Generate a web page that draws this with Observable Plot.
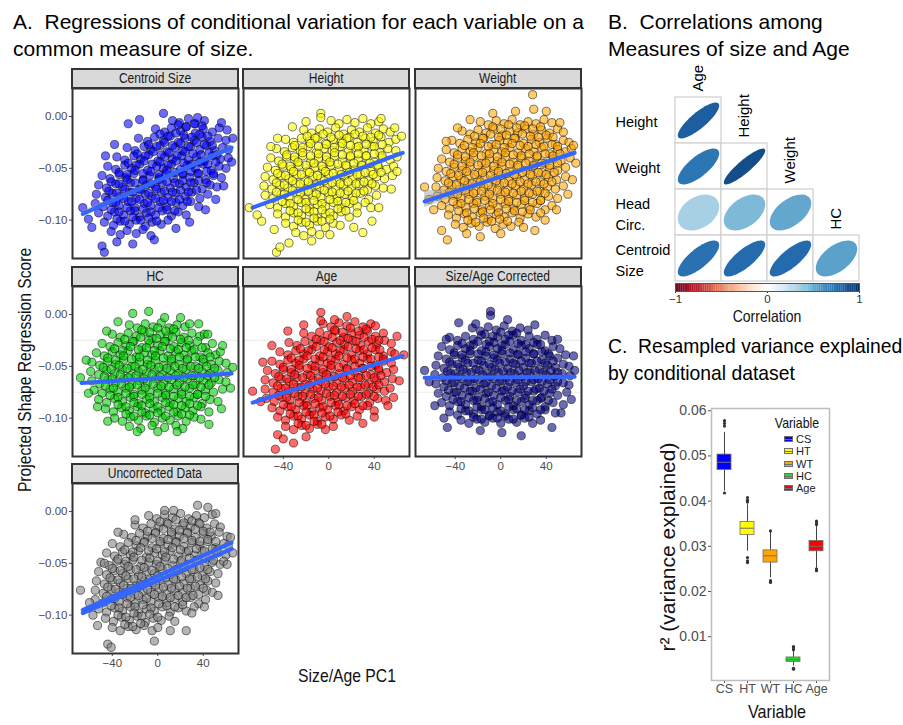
<!DOCTYPE html>
<html><head><meta charset="utf-8">
<script src="https://cdn.jsdelivr.net/npm/d3@7"></script>
<script src="https://cdn.jsdelivr.net/npm/@observablehq/plot@0.6"></script>
<style>
body{margin:0;background:#fff;}
#root{position:relative;width:903px;height:725px;overflow:hidden;background:#fff;font-family:"Liberation Sans",Arial,sans-serif;}
.title{position:absolute;font-size:21px;line-height:27px;color:#000;white-space:pre;transform-origin:0 0;}
.strip{position:absolute;background:#d9d9d9;border:2px solid #333;box-sizing:border-box;text-align:center;font-size:14px;line-height:17px;color:#1a1a1a;white-space:nowrap;}
.strip span{display:inline-block;transform:scaleX(0.86);}
.axt{position:absolute;white-space:nowrap;color:#111;transform:translate(-50%,-50%) scaleX(0.85);}
</style></head>
<body><div id="root"></div>
<script>
// ---------- Panel A data: [Size/Age PC1, projected score in thousandths] ----------
const centroidSize = [
[13,-4],[19,-6],[27,-2],[33,-7],[41,-4],
[-2,-12],[6,-15],[12,-11],[20,-14],[25,-10],[33,-16],[40,-12],[48,-15],[54,-11],
[-17,-21],[-9,-24],[-3,-20],[5,-23],[11,-19],[18,-25],[24,-21],[32,-23],[39,-20],[46,-24],[53,-21],[60,-23],
[-27,-30],[-20,-33],[-12,-29],[-6,-32],[2,-28],[8,-34],[15,-30],[22,-33],[29,-29],[37,-32],[43,-28],[50,-33],[57,-30],[62,-32],
[-36,-39],[-29,-42],[-21,-38],[-15,-41],[-8,-37],[0,-43],[6,-39],[13,-41],[21,-38],[27,-42],[34,-39],[41,-43],[48,-38],[55,-41],[62,-40],
[-44,-48],[-37,-51],[-29,-47],[-23,-50],[-16,-46],[-9,-52],[-1,-48],[5,-50],[12,-46],[20,-51],[26,-47],[33,-50],[40,-46],[47,-52],[54,-48],[60,-50],
[-49,-57],[-42,-60],[-34,-56],[-28,-59],[-21,-55],[-13,-61],[-7,-57],[1,-59],[7,-55],[14,-60],[22,-56],[28,-59],[35,-55],[42,-61],[49,-57],[56,-59],
[-52,-66],[-45,-69],[-37,-65],[-31,-68],[-24,-64],[-16,-70],[-10,-66],[-2,-68],[4,-64],[11,-69],[19,-65],[25,-68],[32,-64],[39,-70],[46,-66],[52,-68],
[-54,-75],[-46,-78],[-40,-74],[-33,-77],[-25,-73],[-19,-79],[-11,-75],[-5,-77],[3,-73],[9,-78],[16,-74],[24,-77],[30,-73],[37,-79],[44,-75],
[-55,-84],[-48,-87],[-40,-83],[-34,-86],[-26,-82],[-20,-88],[-12,-84],[-6,-86],[2,-82],[8,-87],[16,-83],[22,-86],[29,-82],[36,-87],
[-52,-93],[-44,-96],[-38,-92],[-30,-95],[-24,-91],[-16,-97],[-10,-93],[-2,-95],[4,-91],[12,-96],[18,-92],[25,-95],
[-47,-102],[-39,-105],[-33,-101],[-25,-104],[-19,-100],[-11,-106],[-5,-102],[3,-104],[9,-100],
[-41,-111],[-33,-114],[-27,-110],[-19,-113],[-13,-109],[-6,-115],
[18,-8],[25,-10],[32,-7],[39,-9],
[2,-17],[9,-19],[16,-16],[23,-18],[30,-20],[37,-17],[44,-19],
[-8,-27],[-1,-29],[6,-25],[13,-28],[20,-26],[27,-29],[34,-25],[41,-27],[48,-28],
[-18,-36],[-11,-38],[-4,-34],[3,-37],[10,-35],[17,-38],[24,-34],[31,-36],[38,-37],[45,-35],[52,-37],
[-26,-45],[-19,-47],[-12,-43],[-5,-46],[2,-44],[9,-47],[16,-43],[23,-45],[30,-46],[37,-44],[44,-46],[51,-44],
[-34,-54],[-27,-56],[-20,-52],[-13,-55],[-6,-53],[1,-56],[8,-52],[15,-54],[22,-55],[29,-53],[36,-55],[43,-53],[49,-55],
[-41,-63],[-34,-65],[-27,-61],[-20,-64],[-13,-62],[-6,-65],[1,-61],[8,-63],[15,-64],[22,-62],[29,-64],[36,-62],[43,-64],
[-43,-72],[-36,-74],[-29,-70],[-22,-73],[-15,-71],[-8,-74],[-1,-70],[6,-72],[13,-73],[20,-71],[27,-73],[34,-71],
[-44,-81],[-37,-83],[-30,-79],[-23,-82],[-16,-80],[-9,-83],[-2,-79],[5,-81],[12,-82],[19,-80],[26,-82],
[-41,-90],[-34,-92],[-27,-88],[-20,-91],[-13,-89],[-6,-92],[1,-88],[8,-90],[15,-91],
[-36,-99],[-29,-101],[-22,-97],[-15,-100],[-8,-98],[-1,-101],
[-66,-88],[-61,-99],[-58,-107],[-49,-125],[-47,-131],[-36,-121],[-22,-123],[-3,-119],[5,3],[-26,-7],[-16,-3],[-38,-27],[-46,-38],[35,-1],[56,-6],[61,-13],[66,-21],[65,-44],[58,-67],[51,-80],[42,-90],[28,-102],[16,-108]
];
const height = [
[2,-4],[9,-7],[16,-3],[23,-6],[30,-2],[37,-7],[44,-5],
[-22,-13],[-15,-16],[-8,-12],[-1,-15],[6,-11],[13,-17],[20,-13],[27,-15],[34,-11],[41,-16],[48,-12],[54,-15],
[-38,-22],[-31,-25],[-24,-21],[-17,-24],[-10,-20],[-3,-26],[4,-22],[11,-24],[18,-20],[25,-25],[32,-21],[39,-24],[46,-20],[53,-25],[59,-22],
[-46,-31],[-39,-34],[-32,-30],[-25,-33],[-18,-29],[-11,-35],[-4,-31],[3,-33],[10,-29],[17,-34],[24,-30],[31,-33],[38,-29],[45,-35],[52,-31],[59,-33],
[-51,-40],[-44,-43],[-37,-39],[-30,-42],[-23,-38],[-16,-44],[-9,-40],[-2,-42],[5,-38],[12,-43],[19,-39],[26,-42],[33,-38],[40,-44],[47,-40],[54,-42],[60,-39],
[-54,-49],[-47,-52],[-40,-48],[-33,-51],[-26,-47],[-19,-53],[-12,-49],[-5,-51],[2,-47],[9,-52],[16,-48],[23,-51],[30,-47],[37,-53],[44,-49],[51,-51],[57,-48],
[-56,-58],[-49,-61],[-42,-57],[-35,-60],[-28,-56],[-21,-62],[-14,-58],[-7,-60],[0,-56],[7,-61],[14,-57],[21,-60],[28,-56],[35,-62],[42,-58],[49,-60],[56,-57],
[-57,-67],[-50,-70],[-43,-66],[-36,-69],[-29,-65],[-22,-71],[-15,-67],[-8,-69],[-1,-65],[6,-70],[13,-66],[20,-69],[27,-65],[34,-71],[41,-67],[48,-69],
[-56,-76],[-49,-79],[-42,-75],[-35,-78],[-28,-74],[-21,-80],[-14,-76],[-7,-78],[0,-74],[7,-79],[14,-75],[21,-78],[28,-74],[35,-80],[42,-76],
[-52,-85],[-45,-88],[-38,-84],[-31,-87],[-24,-83],[-17,-89],[-10,-85],[-3,-87],[4,-83],[11,-88],[18,-84],[25,-87],[32,-83],[37,-88],
[-45,-94],[-38,-97],[-31,-93],[-24,-96],[-17,-92],[-10,-98],[-3,-94],[4,-96],[11,-92],[18,-97],[25,-93],
[-38,-103],[-31,-106],[-24,-102],[-17,-105],[-10,-101],[-3,-107],[4,-103],[10,-105],
[-29,-112],[-22,-115],[-15,-111],[-8,-114],
[-19,-19],[-12,-21],[-5,-17],[2,-20],[9,-18],[16,-21],[23,-17],[30,-19],[37,-20],[44,-18],
[-30,-28],[-23,-30],[-16,-26],[-9,-29],[-2,-27],[5,-30],[12,-26],[19,-28],[26,-29],[33,-27],[40,-29],[47,-27],
[-37,-37],[-30,-39],[-23,-35],[-16,-38],[-9,-36],[-2,-39],[5,-35],[12,-37],[19,-38],[26,-36],[33,-38],[40,-36],[47,-38],
[-41,-46],[-34,-48],[-27,-44],[-20,-47],[-13,-45],[-6,-48],[1,-44],[8,-46],[15,-47],[22,-45],[29,-47],[36,-45],[43,-47],
[-45,-55],[-38,-57],[-31,-53],[-24,-56],[-17,-54],[-10,-57],[-3,-53],[4,-55],[11,-56],[18,-54],[25,-56],[32,-54],[39,-56],[46,-54],
[-46,-64],[-39,-66],[-32,-62],[-25,-65],[-18,-63],[-11,-66],[-4,-62],[3,-64],[10,-65],[17,-63],[24,-65],[31,-63],[38,-65],
[-46,-73],[-39,-75],[-32,-71],[-25,-74],[-18,-72],[-11,-75],[-4,-71],[3,-73],[10,-74],[17,-72],[24,-74],[31,-72],
[-41,-82],[-34,-84],[-27,-80],[-20,-83],[-13,-81],[-6,-84],[1,-80],[8,-82],[15,-83],[22,-81],
[-34,-91],[-27,-93],[-20,-89],[-13,-92],[-6,-90],[1,-93],[8,-89],[15,-91],
[-27,-100],[-20,-102],[-13,-98],[-6,-101],[1,-99],
[-70,-88],[-63,-95],[-59,-101],[-48,-109],[-46,-131],[-43,-126],[-35,-122],[-7,3],[-7,-1],[-20,-5],[-32,-10],[-45,-21],[-51,-29],[46,-2],[58,-11],[64,-19],[60,-53],[55,-70],[44,-88],[38,-101],[22,-107],[-15,-120],[1,-114],[30,-112]
];
const weight = [
[-18,-5],[-11,-8],[-4,-4],[3,-7],[10,-3],[17,-8],[24,-5],[31,-7],[38,-3],[45,-6],
[-34,-14],[-27,-17],[-20,-13],[-13,-16],[-6,-12],[1,-18],[8,-14],[15,-16],[22,-12],[29,-17],[36,-13],[43,-16],[50,-12],[55,-15],
[-43,-23],[-36,-26],[-29,-22],[-22,-25],[-15,-21],[-8,-27],[-1,-23],[6,-25],[13,-21],[20,-26],[27,-22],[34,-25],[41,-21],[48,-27],[55,-23],[60,-25],
[-48,-32],[-41,-35],[-34,-31],[-27,-34],[-20,-30],[-13,-36],[-6,-32],[1,-34],[8,-30],[15,-35],[22,-31],[29,-34],[36,-30],[43,-36],[50,-32],[57,-34],[62,-31],
[-52,-41],[-45,-44],[-38,-40],[-31,-43],[-24,-39],[-17,-45],[-10,-41],[-3,-43],[4,-39],[11,-44],[18,-40],[25,-43],[32,-39],[39,-45],[46,-41],[53,-43],[61,-40],
[-55,-50],[-48,-53],[-41,-49],[-34,-52],[-27,-48],[-20,-54],[-13,-50],[-6,-52],[1,-48],[8,-53],[15,-49],[22,-52],[29,-48],[36,-54],[43,-50],[50,-52],[57,-49],
[-56,-59],[-49,-62],[-42,-58],[-35,-61],[-28,-57],[-21,-63],[-14,-59],[-7,-61],[0,-57],[7,-62],[14,-58],[21,-61],[28,-57],[35,-63],[42,-59],[49,-61],[57,-58],
[-57,-68],[-50,-71],[-43,-67],[-36,-70],[-29,-66],[-22,-72],[-15,-68],[-8,-70],[-1,-66],[6,-71],[13,-67],[20,-70],[27,-66],[34,-72],[41,-68],[48,-70],[55,-67],
[-56,-77],[-49,-80],[-42,-76],[-35,-79],[-28,-75],[-21,-81],[-14,-77],[-7,-79],[0,-75],[7,-80],[14,-76],[21,-79],[28,-75],[35,-81],[42,-77],[50,-79],
[-52,-86],[-45,-89],[-38,-85],[-31,-88],[-24,-84],[-17,-90],[-10,-86],[-3,-88],[4,-84],[11,-89],[18,-85],[25,-88],[32,-84],[39,-90],[45,-86],
[-46,-95],[-39,-98],[-32,-94],[-25,-97],[-18,-93],[-11,-99],[-4,-95],[3,-97],[10,-93],[17,-98],[24,-94],[31,-97],[35,-93],
[-40,-104],[-33,-107],[-26,-103],[-19,-106],[-12,-102],[-5,-108],[2,-104],[9,-106],[16,-102],[20,-107],
[-7,-10],[0,-12],[7,-8],[14,-11],[21,-9],[28,-12],[35,-10],
[-23,-19],[-16,-21],[-9,-17],[-2,-20],[5,-18],[12,-21],[19,-17],[26,-19],[33,-20],[40,-18],[46,-20],
[-32,-28],[-25,-30],[-18,-26],[-11,-29],[-4,-27],[3,-30],[10,-26],[17,-28],[24,-29],[31,-27],[38,-29],[45,-27],[50,-29],
[-38,-37],[-31,-39],[-24,-35],[-17,-38],[-10,-36],[-3,-39],[4,-35],[11,-37],[18,-38],[25,-36],[32,-38],[39,-36],[46,-38],[52,-36],
[-41,-46],[-34,-48],[-27,-44],[-20,-47],[-13,-45],[-6,-48],[1,-44],[8,-46],[15,-47],[22,-45],[29,-47],[36,-45],[43,-47],[50,-45],
[-44,-55],[-37,-57],[-30,-53],[-23,-56],[-16,-54],[-9,-57],[-2,-53],[5,-55],[12,-56],[19,-54],[26,-56],[33,-54],[40,-56],[47,-54],
[-46,-64],[-39,-66],[-32,-62],[-25,-65],[-18,-63],[-11,-66],[-4,-62],[3,-64],[10,-65],[17,-63],[24,-65],[31,-63],[38,-65],[45,-63],
[-45,-73],[-38,-75],[-31,-71],[-24,-74],[-17,-72],[-10,-75],[-3,-71],[4,-73],[11,-74],[18,-72],[25,-74],[32,-72],[39,-74],
[-42,-82],[-35,-84],[-28,-80],[-21,-83],[-14,-81],[-7,-84],[0,-80],[7,-82],[14,-83],[21,-81],[28,-83],[35,-81],
[-37,-91],[-30,-93],[-23,-89],[-16,-92],[-9,-90],[-2,-93],[5,-89],[12,-91],[19,-92],[26,-90],
[-29,-100],[-22,-102],[-15,-98],[-8,-101],[-1,-99],[6,-101],
[28,21],[29,7],[40,5],[-7,3],[13,5],[-27,-3],[-38,-11],[-48,-24],[-67,-68],[-63,-80],[-59,-90],[-47,-119],[-18,-116],[0,-113],[-30,-113],[-52,-110],[64,-28],[66,-45],[63,-61],[59,-75],[49,-90],[39,-100],[52,-6],[30,-110]
];
const headCirc = [
[-25,-10],[-18,-13],[-11,-9],[-4,-12],[3,-8],[10,-13],[17,-10],[24,-12],[28,-9],
[-40,-19],[-33,-22],[-26,-18],[-19,-21],[-12,-17],[-5,-23],[2,-19],[9,-21],[16,-17],[23,-22],[30,-18],[37,-21],[41,-19],
[-49,-28],[-42,-31],[-35,-27],[-28,-30],[-21,-26],[-14,-32],[-7,-28],[0,-30],[7,-26],[14,-31],[21,-27],[28,-30],[35,-26],[42,-32],[48,-28],
[-54,-37],[-47,-40],[-40,-36],[-33,-39],[-26,-35],[-19,-41],[-12,-37],[-5,-39],[2,-35],[9,-40],[16,-36],[23,-39],[30,-35],[37,-41],[44,-37],[51,-39],[55,-36],
[-58,-46],[-51,-49],[-44,-45],[-37,-48],[-30,-44],[-23,-50],[-16,-46],[-9,-48],[-2,-44],[5,-49],[12,-45],[19,-48],[26,-44],[33,-50],[40,-46],[47,-48],[54,-45],[60,-47],
[-59,-55],[-52,-58],[-45,-54],[-38,-57],[-31,-53],[-24,-59],[-17,-55],[-10,-57],[-3,-53],[4,-58],[11,-54],[18,-57],[25,-53],[32,-59],[39,-55],[46,-57],[53,-54],[61,-56],
[-58,-64],[-51,-67],[-44,-63],[-37,-66],[-30,-62],[-23,-68],[-16,-64],[-9,-66],[-2,-62],[5,-67],[12,-63],[19,-66],[26,-62],[33,-68],[40,-64],[47,-66],[54,-63],[60,-65],
[-56,-73],[-49,-76],[-42,-72],[-35,-75],[-28,-71],[-21,-77],[-14,-73],[-7,-75],[0,-71],[7,-76],[14,-72],[21,-75],[28,-71],[35,-77],[42,-73],[49,-75],[57,-72],
[-52,-82],[-45,-85],[-38,-81],[-31,-84],[-24,-80],[-17,-86],[-10,-82],[-3,-84],[4,-80],[11,-85],[18,-81],[25,-84],[32,-80],[39,-86],[46,-82],[53,-84],
[-46,-91],[-39,-94],[-32,-90],[-25,-93],[-18,-89],[-11,-95],[-4,-91],[3,-93],[10,-89],[17,-94],[24,-90],[31,-93],[38,-89],[45,-94],
[-38,-100],[-31,-103],[-24,-99],[-17,-102],[-10,-98],[-3,-104],[4,-100],[11,-102],[18,-98],[25,-103],[32,-99],[38,-101],
[-25,-108],[-15,-110],[-5,-107],[6,-109],[16,-107],[22,-110],
[-14,-15],[-7,-17],[0,-13],[7,-16],[14,-14],
[-29,-24],[-22,-26],[-15,-22],[-8,-25],[-1,-23],[6,-26],[13,-22],[20,-24],[27,-25],
[-38,-33],[-31,-35],[-24,-31],[-17,-34],[-10,-32],[-3,-35],[4,-31],[11,-33],[18,-34],[25,-32],[32,-34],[39,-32],
[-44,-42],[-37,-44],[-30,-40],[-23,-43],[-16,-41],[-9,-44],[-2,-40],[5,-42],[12,-43],[19,-41],[26,-43],[33,-41],[40,-43],[46,-41],
[-48,-51],[-41,-53],[-34,-49],[-27,-52],[-20,-50],[-13,-53],[-6,-49],[1,-51],[8,-52],[15,-50],[22,-52],[29,-50],[36,-52],[43,-50],[50,-52],
[-47,-60],[-40,-62],[-33,-58],[-26,-61],[-19,-59],[-12,-62],[-5,-58],[2,-60],[9,-61],[16,-59],[23,-61],[30,-59],[37,-61],[44,-59],[50,-61],
[-46,-69],[-39,-71],[-32,-67],[-25,-70],[-18,-68],[-11,-71],[-4,-67],[3,-69],[10,-70],[17,-68],[24,-70],[31,-68],[38,-70],[45,-68],
[-42,-78],[-35,-80],[-28,-76],[-21,-79],[-14,-77],[-7,-80],[0,-76],[7,-78],[14,-79],[21,-77],[28,-79],[35,-77],[42,-79],
[-35,-87],[-28,-89],[-21,-85],[-14,-88],[-7,-86],[0,-89],[7,-85],[14,-87],[21,-88],[28,-86],[35,-88],
[-28,-96],[-21,-98],[-14,-94],[-7,-97],[0,-95],[7,-98],[14,-94],[21,-96],[28,-97],
[-8,3],[-22,1],[6,-3],[20,-3],[-35,-7],[36,-9],[-68,-61],[-63,-44],[66,-51],[64,-71],[56,-91],[45,-106],[-18,-113],[0,-113],[17,-113],[-44,-103],[-53,-89],[-61,-76],[44,-19],[57,-30],[-45,-16]
];
const age = [
[-5,-9],[2,-12],[9,-8],[16,-11],[23,-7],[30,-12],[37,-9],[41,-11],
[-22,-18],[-15,-21],[-8,-17],[-1,-20],[6,-16],[13,-22],[20,-18],[27,-20],[34,-16],[41,-21],[48,-18],
[-35,-27],[-28,-30],[-21,-26],[-14,-29],[-7,-25],[0,-31],[7,-27],[14,-29],[21,-25],[28,-30],[35,-26],[42,-29],[49,-25],[55,-28],
[-43,-36],[-36,-39],[-29,-35],[-22,-38],[-15,-34],[-8,-40],[-1,-36],[6,-38],[13,-34],[20,-39],[27,-35],[34,-38],[41,-34],[48,-40],[55,-36],[58,-38],
[-50,-45],[-43,-48],[-36,-44],[-29,-47],[-22,-43],[-15,-49],[-8,-45],[-1,-47],[6,-43],[13,-48],[20,-44],[27,-47],[34,-43],[41,-49],[48,-45],[55,-47],
[-54,-54],[-47,-57],[-40,-53],[-33,-56],[-26,-52],[-19,-58],[-12,-54],[-5,-56],[2,-52],[9,-57],[16,-53],[23,-56],[30,-52],[37,-58],[44,-54],[51,-56],[57,-53],
[-56,-63],[-49,-66],[-42,-62],[-35,-65],[-28,-61],[-21,-67],[-14,-63],[-7,-65],[0,-61],[7,-66],[14,-62],[21,-65],[28,-61],[35,-67],[42,-63],[49,-65],[56,-62],
[-56,-72],[-49,-75],[-42,-71],[-35,-74],[-28,-70],[-21,-76],[-14,-72],[-7,-74],[0,-70],[7,-75],[14,-71],[21,-74],[28,-70],[35,-76],[42,-72],[49,-74],[54,-71],
[-55,-81],[-48,-84],[-41,-80],[-34,-83],[-27,-79],[-20,-85],[-13,-81],[-6,-83],[1,-79],[8,-84],[15,-80],[22,-83],[29,-79],[36,-85],[43,-81],[50,-83],
[-50,-90],[-43,-93],[-36,-89],[-29,-92],[-22,-88],[-15,-94],[-8,-90],[-1,-92],[6,-88],[13,-93],[20,-89],[27,-92],[34,-88],[40,-93],
[-45,-99],[-38,-102],[-31,-98],[-24,-101],[-17,-97],[-10,-103],[-3,-99],[4,-101],[11,-97],[18,-102],[25,-98],
[-38,-108],[-31,-111],[-24,-107],[-17,-110],[-10,-106],[-3,-111],[4,-108],
[5,-15],[12,-17],[19,-13],[26,-16],[33,-14],
[-11,-24],[-4,-26],[3,-22],[10,-25],[17,-23],[24,-26],[31,-22],[38,-24],[44,-25],
[-25,-33],[-18,-35],[-11,-31],[-4,-34],[3,-32],[10,-35],[17,-31],[24,-33],[31,-34],[38,-32],[45,-34],
[-33,-42],[-26,-44],[-19,-40],[-12,-43],[-5,-41],[2,-44],[9,-40],[16,-42],[23,-43],[30,-41],[37,-43],[44,-41],[48,-43],
[-40,-51],[-33,-53],[-26,-49],[-19,-52],[-12,-50],[-5,-53],[2,-49],[9,-51],[16,-52],[23,-50],[30,-52],[37,-50],[44,-52],
[-44,-60],[-37,-62],[-30,-58],[-23,-61],[-16,-59],[-9,-62],[-2,-58],[5,-60],[12,-61],[19,-59],[26,-61],[33,-59],[40,-61],[46,-59],
[-45,-69],[-38,-71],[-31,-67],[-24,-70],[-17,-68],[-10,-71],[-3,-67],[4,-69],[11,-70],[18,-68],[25,-70],[32,-68],[39,-70],[44,-68],
[-44,-78],[-37,-80],[-30,-76],[-23,-79],[-16,-77],[-9,-80],[-2,-76],[5,-78],[12,-79],[19,-77],[26,-79],[33,-77],[40,-79],
[-40,-87],[-33,-89],[-26,-85],[-19,-88],[-12,-86],[-5,-89],[2,-85],[9,-87],[16,-88],[23,-86],[30,-88],
[-34,-96],[-27,-98],[-20,-94],[-13,-97],[-6,-95],[1,-98],[8,-94],[15,-96],
[-27,-105],[-20,-107],[-13,-103],[-6,-106],
[-7,2],[-7,-6],[5,-5],[16,-2],[-36,-16],[-22,-10],[-67,-74],[-60,-84],[66,-39],[62,-64],[57,-80],[52,-88],[-45,-116],[-31,-124],[-47,-130],[-40,-120],[-20,-118],[30,-105],[40,-99],[60,-21],[-58,-46],[-50,-30]
];
const sizeAgeCorrected = [
[-25,-13],[-18,-16],[-11,-12],[-4,-15],[3,-11],[10,-16],[17,-13],[24,-15],
[-45,-22],[-38,-25],[-31,-21],[-24,-24],[-17,-20],[-10,-26],[-3,-22],[4,-24],[11,-20],[18,-25],[25,-21],[32,-24],[39,-20],[45,-25],
[-52,-31],[-45,-34],[-38,-30],[-31,-33],[-24,-29],[-17,-35],[-10,-31],[-3,-33],[4,-29],[11,-34],[18,-30],[25,-33],[32,-29],[39,-35],[46,-31],[52,-33],
[-55,-40],[-48,-43],[-41,-39],[-34,-42],[-27,-38],[-20,-44],[-13,-40],[-6,-42],[1,-38],[8,-43],[15,-39],[22,-42],[29,-38],[36,-44],[43,-40],[50,-42],[57,-39],
[-57,-49],[-50,-52],[-43,-48],[-36,-51],[-29,-47],[-22,-53],[-15,-49],[-8,-51],[-1,-47],[6,-52],[13,-48],[20,-51],[27,-47],[34,-53],[41,-49],[48,-51],[55,-48],[60,-50],
[-58,-58],[-51,-61],[-44,-57],[-37,-60],[-30,-56],[-23,-62],[-16,-58],[-9,-60],[-2,-56],[5,-61],[12,-57],[19,-60],[26,-56],[33,-62],[40,-58],[47,-60],[54,-57],[61,-59],
[-57,-67],[-50,-70],[-43,-66],[-36,-69],[-29,-65],[-22,-71],[-15,-67],[-8,-69],[-1,-65],[6,-70],[13,-66],[20,-69],[27,-65],[34,-71],[41,-67],[48,-69],[55,-66],[60,-68],
[-55,-76],[-48,-79],[-41,-75],[-34,-78],[-27,-74],[-20,-80],[-13,-76],[-6,-78],[1,-74],[8,-79],[15,-75],[22,-78],[29,-74],[36,-80],[43,-76],[50,-78],[58,-75],
[-52,-85],[-45,-88],[-38,-84],[-31,-87],[-24,-83],[-17,-89],[-10,-85],[-3,-87],[4,-83],[11,-88],[18,-84],[25,-87],[32,-83],[39,-89],[46,-85],[55,-87],
[-45,-94],[-38,-97],[-31,-93],[-24,-96],[-17,-92],[-10,-98],[-3,-94],[4,-96],[11,-92],[18,-97],[25,-93],[32,-96],[39,-92],[48,-95],
[-35,-102],[-28,-105],[-21,-101],[-14,-104],[-7,-100],[0,-105],[7,-101],[14,-104],[21,-100],[28,-105],[35,-102],
[-14,-19],[-7,-21],[0,-17],[7,-20],[14,-18],
[-34,-28],[-27,-30],[-20,-26],[-13,-29],[-6,-27],[1,-30],[8,-26],[15,-28],[22,-29],[29,-27],[35,-29],
[-41,-37],[-34,-39],[-27,-35],[-20,-38],[-13,-36],[-6,-39],[1,-35],[8,-37],[15,-38],[22,-36],[29,-38],[36,-36],[42,-38],
[-45,-46],[-38,-48],[-31,-44],[-24,-47],[-17,-45],[-10,-48],[-3,-44],[4,-46],[11,-47],[18,-45],[25,-47],[32,-45],[39,-47],[46,-45],
[-47,-55],[-40,-57],[-33,-53],[-26,-56],[-19,-54],[-12,-57],[-5,-53],[2,-55],[9,-56],[16,-54],[23,-56],[30,-54],[37,-56],[44,-54],[50,-56],
[-48,-64],[-41,-66],[-34,-62],[-27,-65],[-20,-63],[-13,-66],[-6,-62],[1,-64],[8,-65],[15,-63],[22,-65],[29,-63],[36,-65],[43,-63],[50,-65],
[-46,-73],[-39,-75],[-32,-71],[-25,-74],[-18,-72],[-11,-75],[-4,-71],[3,-73],[10,-74],[17,-72],[24,-74],[31,-72],[38,-74],[45,-72],
[-42,-82],[-35,-84],[-28,-80],[-21,-83],[-14,-81],[-7,-84],[0,-80],[7,-82],[14,-83],[21,-81],[28,-83],[35,-81],[42,-83],
[-35,-91],[-28,-93],[-21,-89],[-14,-92],[-7,-90],[0,-93],[7,-89],[14,-91],[21,-92],[28,-90],[35,-92],
[-24,-99],[-17,-101],[-10,-97],[-3,-100],[4,-98],[11,-101],[18,-97],[25,-99],
[-9,3],[-9,-1],[-37,-8],[6,-5],[-22,-9],[-67,-54],[-63,-65],[65,-54],[62,-82],[53,-95],[-47,-109],[-18,-112],[1,-114],[18,-117],[45,-109],[-50,-100],[30,-10],[-58,-88],[-48,-24],[50,-24],[64,-40]
];
const uncorrected = [
[-8,-4],[-1,-7],[6,-3],[13,-6],[20,-2],[27,-7],[34,-4],[41,-6],[48,-3],
[-20,-13],[-13,-16],[-6,-12],[1,-15],[8,-11],[15,-17],[22,-13],[29,-15],[36,-11],[43,-16],[50,-12],[55,-15],
[-30,-22],[-23,-25],[-16,-21],[-9,-24],[-2,-20],[5,-26],[12,-22],[19,-24],[26,-20],[33,-25],[40,-21],[47,-24],[54,-20],[61,-24],
[-40,-31],[-33,-34],[-26,-30],[-19,-33],[-12,-29],[-5,-35],[2,-31],[9,-33],[16,-29],[23,-34],[30,-30],[37,-33],[44,-29],[51,-35],[58,-31],[62,-33],
[-45,-40],[-38,-43],[-31,-39],[-24,-42],[-17,-38],[-10,-44],[-3,-40],[4,-42],[11,-38],[18,-43],[25,-39],[32,-42],[39,-38],[46,-44],[53,-40],[60,-42],
[-50,-49],[-43,-52],[-36,-48],[-29,-51],[-22,-47],[-15,-53],[-8,-49],[-1,-51],[6,-47],[13,-52],[20,-48],[27,-51],[34,-47],[41,-53],[48,-49],[55,-51],[58,-48],
[-52,-58],[-45,-61],[-38,-57],[-31,-60],[-24,-56],[-17,-62],[-10,-58],[-3,-60],[4,-56],[11,-61],[18,-57],[25,-60],[32,-56],[39,-62],[46,-58],[53,-60],
[-54,-67],[-47,-70],[-40,-66],[-33,-69],[-26,-65],[-19,-71],[-12,-67],[-5,-69],[2,-65],[9,-70],[16,-66],[23,-69],[30,-65],[37,-71],[44,-67],[51,-69],
[-55,-76],[-48,-79],[-41,-75],[-34,-78],[-27,-74],[-20,-80],[-13,-76],[-6,-78],[1,-74],[8,-79],[15,-75],[22,-78],[29,-74],[36,-80],[43,-76],[48,-78],
[-55,-85],[-48,-88],[-41,-84],[-34,-87],[-27,-83],[-20,-89],[-13,-85],[-6,-87],[1,-83],[8,-88],[15,-84],[22,-87],[29,-83],[36,-89],[42,-85],
[-52,-94],[-45,-97],[-38,-93],[-31,-96],[-24,-92],[-17,-98],[-10,-94],[-3,-96],[4,-92],[11,-97],[18,-93],[25,-96],[32,-92],
[-46,-103],[-39,-106],[-32,-102],[-25,-105],[-18,-101],[-11,-107],[-4,-103],[3,-105],[10,-101],[15,-106],
[-40,-112],[-33,-115],[-26,-111],[-19,-114],[-12,-110],[-5,-115],[0,-112],
[2,-10],[9,-12],[16,-8],[23,-11],[30,-9],[37,-12],
[-9,-19],[-2,-21],[5,-17],[12,-20],[19,-18],[26,-21],[33,-17],[40,-19],[46,-20],
[-19,-28],[-12,-30],[-5,-26],[2,-29],[9,-27],[16,-30],[23,-26],[30,-28],[37,-29],[44,-27],[51,-29],
[-29,-37],[-22,-39],[-15,-35],[-8,-38],[-1,-36],[6,-39],[13,-35],[20,-37],[27,-38],[34,-36],[41,-38],[48,-36],[52,-38],
[-35,-46],[-28,-48],[-21,-44],[-14,-47],[-7,-45],[0,-48],[7,-44],[14,-46],[21,-47],[28,-45],[35,-47],[42,-45],[49,-47],
[-40,-55],[-33,-57],[-26,-53],[-19,-56],[-12,-54],[-5,-57],[2,-53],[9,-55],[16,-56],[23,-54],[30,-56],[37,-54],[44,-56],
[-42,-64],[-35,-66],[-28,-62],[-21,-65],[-14,-63],[-7,-66],[0,-62],[7,-64],[14,-65],[21,-63],[28,-65],[35,-63],[42,-65],
[-44,-73],[-37,-75],[-30,-71],[-23,-74],[-16,-72],[-9,-75],[-2,-71],[5,-73],[12,-74],[19,-72],[26,-74],[33,-72],[40,-74],
[-45,-82],[-38,-84],[-31,-80],[-24,-83],[-17,-81],[-10,-84],[-3,-80],[4,-82],[11,-83],[18,-81],[25,-83],[31,-81],
[-41,-91],[-34,-93],[-27,-89],[-20,-92],[-13,-90],[-6,-93],[1,-89],[8,-91],[15,-92],[22,-90],
[-35,-100],[-28,-102],[-21,-98],[-14,-101],[-7,-99],[0,-102],
[-29,-109],[-22,-111],[-15,-108],
[35,6],[44,4],[51,-2],[14,1],[6,1],[-20,-8],[-35,-20],[-68,-76],[-60,-88],[-57,-100],[-53,-110],[-44,-128],[-41,-131],[-3,-125],[11,-115],[25,-115],[64,-25],[66,-40],[61,-51],[53,-81],[41,-92],[30,-98],[-47,-50]
];
// fitted lines (x, score in thousandths)
const csFit = [[-66,-94],[65,-30]];
const htFit = [[-67,-88],[65,-35]];
const wtFit = [[-67,-82],[65,-35]];
const hcFit = [[-67,-66],[65,-57]];
const ageFit = [[-67,-85],[65,-40]];
const corrFit = [[-67,-61],[65,-60]];
const ucFit = [[-66,-95],[65,-30]];
const ucFit2 = [[-66,-98],[65,-36]];
// confidence ribbons
const csRibX = [-66,0,65], csRibLo = [-97,-63,-33], csRibHi = [-91,-61,-27];
const wtRibX = [-67,-40,0,40,65], wtRibLo = [-88,-77,-60,-47,-38], wtRibHi = [-72,-70,-56,-43,-31];
const ucRibX = [-66,0,65], ucRibLo = [-100,-66,-38], ucRibHi = [-93,-62,-28];
const panelNames = ["Centroid Size","Height","Weight","HC","Age","Size/Age Corrected","Uncorrected Data"];
const panelFills = ["#0000ff","#ffff00","#ffa500","#00cd00","#ff0000","#000080","#808080"];
const xTicksA = [-40,0,40];
const yTicksA = [0,-50,-100];

// ---------- Panel B data ----------
const corrRows = ["Height","Weight","Head\nCirc.","Centroid\nSize"];
const corrCols = ["Age","Height","Weight","HC"];
const corrValues = [[0.83],[0.73,0.89],[0.33,0.45,0.52],[0.75,0.78,0.78,0.54]];
const corrColorDomain = [-1,-0.8,-0.6,-0.4,-0.2,0,0.2,0.4,0.6,0.8,1];
const corrColorRange = ["#67001F","#B2182B","#D6604D","#F4A582","#FDDBC7","#FFFFFF","#D1E5F0","#92C5DE","#4393C3","#2166AC","#053061"];

// ---------- Panel C data ----------
const vars = ["CS","HT","WT","HC","Age"];
const boxColors = ["#0000ff","#ffff00","#ffa500","#22dd22","#ff0000"];
const q1 = [0.0469,0.0325,0.0264,0.0044,0.0289];
const med = [0.0486,0.0340,0.0279,0.0049,0.0300];
const q3 = [0.0503,0.0354,0.0291,0.0054,0.0312];
const whiskLo = [0.0422,0.0289,0.0230,0.0035,0.0252];
const whiskHi = [0.0552,0.0392,0.0331,0.0067,0.0346];
const outlierVar = ["CS","CS","CS","CS","HT","HT","HT","HT","HT","HT","WT","WT","WT","HC","HC","HC","HC","HC","Age","Age","Age","Age","Age"];
const outlierVal = [0.0578,0.0572,0.0566,0.0418,0.0408,0.0402,0.0398,0.0275,0.0268,0.0264,0.0334,0.0224,0.0220,0.0078,0.0075,0.0071,0.0030,0.0028,0.0356,0.0352,0.0348,0.0250,0.0246];
const yTicksC = [0.01,0.02,0.03,0.04,0.05,0.06];

// ================= drawing =================
const FONT = '"Liberation Sans",Arial,sans-serif';
const root = document.getElementById("root");
function put(el, left, top){ el.style.position="absolute"; el.style.left=left+"px"; el.style.top=top+"px"; root.appendChild(el); return el; }
function div(txt, cls, left, top, css){ const d=document.createElement("div"); d.className=cls; d.textContent=txt; if(css) d.style.cssText += css; put(d,left,top); return d; }

// titles
div("A.  Regressions of conditional variation for each variable on a\ncommon measure of size.", "title", 13, 8);
div("B.  Correlations among\nMeasures of size and Age", "title", 608, 8);
div("C.  Resampled variance explained\nby conditional dataset", "title", 608, 332, "transform:scaleX(0.92);");

// Panel A facets
const colLeft = [72, 243, 415], stripTop = [68, 266, 463];
const PW = 166, PH = 170, ML = 45, MB = 22;
const fmtA = d => (d/1000).toFixed(2).replace("-", "\u2212");
const datasets = [centroidSize, height, weight, headCirc, age, sizeAgeCorrected, uncorrected];
const fits = [[csFit],[htFit],[wtFit],[hcFit],[ageFit],[corrFit],[ucFit, ucFit2]];
const ribbons = [
  csRibX.map((x,i)=>({x, lo:csRibLo[i], hi:csRibHi[i]})), null,
  wtRibX.map((x,i)=>({x, lo:wtRibLo[i], hi:wtRibHi[i]})), null, null, null,
  ucRibX.map((x,i)=>({x, lo:ucRibLo[i], hi:ucRibHi[i]}))
];
panelNames.forEach((name, i) => {
  const col = i % 3, row = Math.floor(i / 3);
  const showY = col === 0;
  const showX = row === 2 || (row === 1 && col > 0);
  const marks = [];
  if (row === 1) marks.push(Plot.ruleY([-25,-75], {stroke:"#ececec", strokeWidth:1.2}));
  marks.push(Plot.dot(datasets[i], {x: d=>d[0], y: d=>d[1], r:4.1, fill: panelFills[i], fillOpacity:0.58, stroke:"#000", strokeOpacity:0.65, strokeWidth:0.8}));
  if (ribbons[i]) marks.push(Plot.areaY(ribbons[i], {x:"x", y1:"lo", y2:"hi", fill:"#9a9a9a", fillOpacity:0.45}));
  fits[i].forEach(f => marks.push(Plot.line(f, {x:d=>d[0], y:d=>d[1], stroke:"#3366ff", strokeWidth:4})));
  marks.push(Plot.frame({stroke:"#333", strokeWidth:2}));
  const svg = Plot.plot({
    width: ML + PW + 2, height: PH + MB,
    marginLeft: ML, marginRight: 2, marginTop: 0, marginBottom: MB,
    x: {domain:[-75,71], ticks: xTicksA, axis: showX ? "bottom" : null, label:null, tickSize:3, tickPadding:2},
    y: {domain:[-137,27], ticks: yTicksA, axis: showY ? "left" : null, label:null, tickFormat: fmtA, tickSize:3, tickPadding:2},
    style: {fontFamily: FONT, fontSize:"11.5px", color:"#4d4d4d", background:"transparent", overflow:"visible"},
    marks
  });
  put(svg, colLeft[col] - ML, stripTop[row] + 20);
  const s = document.createElement("div");
  s.className = "strip";
  const sp = document.createElement("span"); sp.textContent = name; s.appendChild(sp);
  put(s, colLeft[col]-1, stripTop[row]);
  s.style.width = (PW+2)+"px"; s.style.height = "21px";
});
div("Projected Shape Regression Score", "axt", 25, 370, "font-size:18.5px;transform:translate(-50%,-50%) rotate(-90deg) scaleX(0.845);");
div("Size/Age PC1", "axt", 347, 676, "font-size:18.5px;");

// Panel B: correlation ellipses
const corrColor = {type:"linear", domain: corrColorDomain, range: corrColorRange};
const cells = [], ellPts = [];
corrValues.forEach((rowVals, ri) => rowVals.forEach((rho, ci) => {
  cells.push({c: ci, r: ri + 1});
  const d = Math.acos(rho);
  for (let k = 0; k < 72; k++) {
    const t = 2 * Math.PI * k / 72;
    ellPts.push({id: ri + "-" + ci, rho, x: ci + 0.5 + 0.45 * Math.cos(t + d/2), y: ri + 1.5 - 0.39 * Math.cos(t - d/2)});
  }
}));
const rowLabelData = corrRows.map((t, i) => ({t, y: i + 1.5}));
const colLabelData = corrCols.map((t, i) => ({t, x: i + 0.5, y: i + 1}));
const svgB = Plot.plot({
  width: 75 + 184 + 20, height: 230,
  marginLeft: 75, marginRight: 20, marginTop: 0, marginBottom: 0,
  x: {domain:[0,4], axis:null}, y: {domain:[0,5], reverse:true, axis:null},
  color: corrColor,
  style: {fontFamily: FONT, background:"transparent", overflow:"visible"},
  marks: [
    Plot.rect(cells, {x1: d=>d.c, x2: d=>d.c+1, y1: d=>d.r, y2: d=>d.r+1, fill:"#fff", stroke:"#cfcfcf", strokeWidth:1.2}),
    Plot.line(ellPts, {x:"x", y:"y", z:"id", fill:"rho", stroke:"none", curve:"linear-closed"}),
    Plot.text(rowLabelData, {y:"y", text:"t", frameAnchor:"left", dx:-60, textAnchor:"start", fontSize:14.5, fill:"#000", lineHeight:1.5}),
    Plot.text(colLabelData, {x:"x", y:"y", text:"t", rotate:-90, textAnchor:"start", dy:-6, fontSize:15, fill:"#000"})
  ]
});
put(svgB, 600, 51);
const ramp = d3.range(-1, 1, 0.02);
const svgBar = Plot.plot({
  width: 75 + 184 + 20, height: 9 + 16,
  marginLeft: 75, marginRight: 20, marginTop: 1, marginBottom: 16,
  x: {domain:[-1,1], ticks:[-1,0,1], tickFormat: d => String(d).replace("-", "\u2212"), tickSize:2, tickPadding:1, label:null},
  y: {domain:[0,1], axis:null},
  color: corrColor,
  style: {fontFamily: FONT, fontSize:"11.5px", color:"#333", background:"transparent", overflow:"visible"},
  marks: [
    Plot.rect(ramp, {x1: d=>d, x2: d=>d+0.021, y1:0, y2:1, fill: d=>d+0.01}),
    Plot.frame({stroke:"#555", strokeWidth:1})
  ]
});
put(svgBar, 600, 282);
div("Correlation", "axt", 767, 316, "font-size:16.5px;");

// Panel C: boxplots
const boxes = vars.map((v,i)=>({v, q1:q1[i], med:med[i], q3:q3[i], lo:whiskLo[i], hi:whiskHi[i]}));
const outliers = outlierVar.map((v,i)=>({v, y: outlierVal[i]}));
const svgC = Plot.plot({
  width: 50 + 118 + 12, height: 10 + 272 + 24,
  marginLeft: 50, marginRight: 12, marginTop: 10, marginBottom: 24,
  x: {type:"band", domain: vars, paddingInner:0.4, paddingOuter:0.265, label:null, tickSize:3, tickPadding:2, tickFormat: () => ""},
  y: {domain:[0.0003, 0.0605], ticks: yTicksC, tickFormat: d3.format(".2f"), label:null, tickSize:3, tickPadding:2},
  color: {domain: vars, range: boxColors},
  style: {fontFamily: FONT, fontSize:"14px", color:"#4d4d4d", background:"transparent", overflow:"visible"},
  marks: [
    Plot.frame({stroke:"#bdbdbd", strokeWidth:1.5}),
    Plot.ruleX(boxes, {x:"v", y1:"lo", y2:"hi", stroke:"#444", strokeWidth:1}),
    Plot.barY(boxes, {x:"v", y1:"q1", y2:"q3", fill:"v", stroke:"#6f6f6f", strokeWidth:0.8}),
    Plot.tickY(boxes, {x:"v", y:"med", stroke:"#6f6f6f", strokeWidth:1}),
    Plot.dot(outliers, {x:"v", y:"y", r:1.6, fill:"#333", stroke:"none"}),
    Plot.text(vars, {x: d=>d, text: d=>d, frameAnchor:"bottom", dy:12, fontSize:12.5, fill:"#4d4d4d"})
  ]
});
put(svgC, 661, 398);
div("r\u00b2 (variance explained)", "axt", 668, 547, "font-size:21px;transform:translate(-50%,-50%) rotate(-90deg);");
div("Variable", "axt", 777, 712, "font-size:19px;");
// legend
div("Variable", "axt", 797, 423, "font-size:14.5px;");
vars.forEach((v,i) => {
  const top = 439 + i * 12.3;
  const sw = document.createElement("div");
  sw.style.cssText = `width:9px;height:6px;background:${boxColors[i]};border:1px solid #6f6f6f;box-sizing:border-box;`;
  put(sw, 784, top - 3);
  const ln = document.createElement("div");
  ln.style.cssText = "width:9px;height:1px;background:#6f6f6f;";
  put(ln, 784, top);
  const lb = document.createElement("div");
  lb.textContent = v;
  lb.style.cssText = "font-size:11px;line-height:12px;color:#222;white-space:nowrap;";
  put(lb, 796, top - 6);
});
</script>
</body></html>
